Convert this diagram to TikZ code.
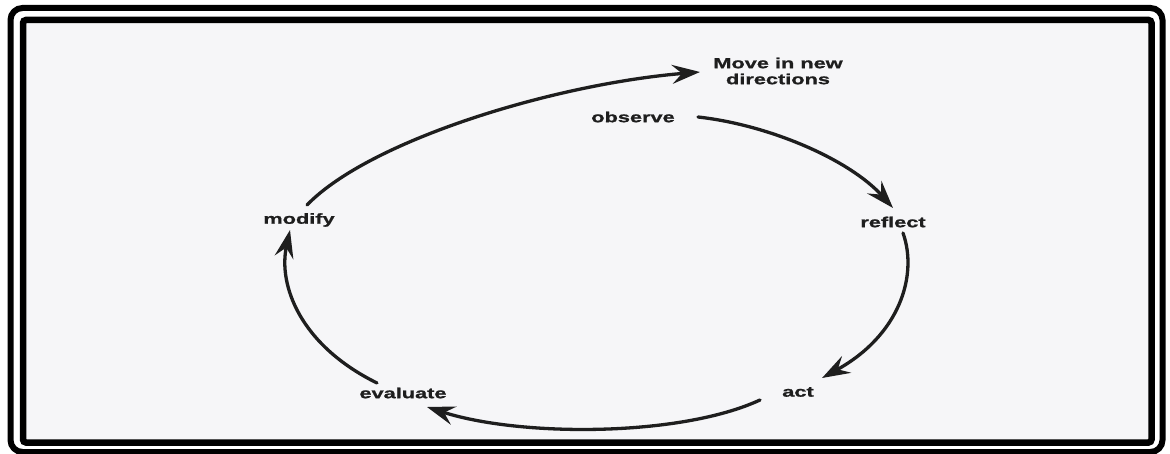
\documentclass[tikz,border=0pt]{standalone}
\usepackage{fontspec}
\newfontfamily\labfont[FakeStretch=1.5,FakeBold=1.2]{Liberation Sans}
\usetikzlibrary{arrows.meta}
\definecolor{paper}{HTML}{F6F6F8}
\definecolor{ink}{HTML}{1E1E1E}
\tikzset{
  lab/.style={font=\labfont\bfseries\fontsize{14.5}{16}\selectfont, text=ink, inner sep=0pt, align=center},
  cyc/.style={draw=ink, line width=3.3pt, line cap=round,
    -{Stealth[length=28pt,width=19pt,inset=10pt]}},
  frameout/.style={draw=black, line width=6pt, rounded corners=12pt},
  framein/.style={draw=black, line width=6.5pt, fill=paper, rounded corners=3pt}
}
\begin{document}
\begin{tikzpicture}[x=1pt,y=-1pt]
\useasboundingbox (0,0) rectangle (1170,454);
\fill[white] (0,0) rectangle (1170,454);
\draw[frameout] (10.5,8) rectangle (1162.5,452);
\draw[framein] (23,20) rectangle (1151.5,442.5);

\node[lab] (move) at (778,71) {Move in new\\directions};
\node[lab] (observe) at (633,117) {observe};
\node[lab] (reflect) at (893,222) {reflect};
\node[lab] (act) at (798,392) {act};
\node[lab] (evaluate) at (403,393) {evaluate};
\node[lab] (modify) at (299,220) {modify};

\coordinate (m1) at (307,205);
\coordinate (mv) at (700,72);
\coordinate (o1) at (698,117);
\coordinate (r0) at (893,208);
\coordinate (r1) at (903,233);
\coordinate (a0) at (822,378);
\coordinate (a1) at (760,400);
\coordinate (e0) at (427,407);
\coordinate (e1) at (377,383);
\coordinate (m0) at (290,230);

\draw[cyc] (m1) .. controls (370,140) and (555,84) .. (mv);
\draw[cyc] (o1) .. controls (770,125) and (850,160) .. (r0);
\draw[cyc] (r1) .. controls (918,275) and (900,335) .. (a0);
\draw[cyc] (a1) .. controls (680,437) and (520,437) .. (e0);
\draw[cyc] (e1) .. controls (300,345) and (278,285) .. (m0);
\end{tikzpicture}
\end{document}
